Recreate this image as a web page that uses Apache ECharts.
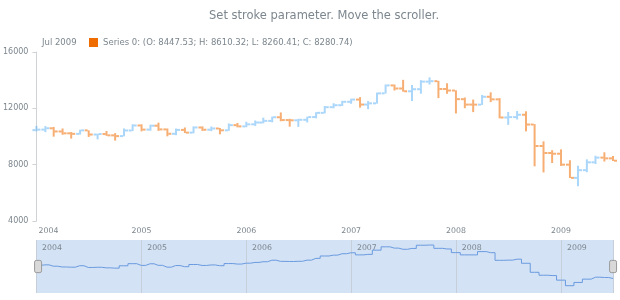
<!DOCTYPE html>
<html style="height: 100%">
<head>
    <meta charset="utf-8">
    <script src="https://cdn.jsdelivr.net/npm/echarts@6/dist/echarts.min.js"></script>
</head>
<body style="height: 100%; margin: 0; background: #fff">
<div id="container" style="width: 620px; height: 300px"></div>
<script type="text/javascript">
    var months = [
        '2004-01-01','2004-02-01','2004-03-01','2004-04-01','2004-05-01','2004-06-01','2004-07-01','2004-08-01','2004-09-01','2004-10-01','2004-11-01','2004-12-01',
        '2005-01-01','2005-02-01','2005-03-01','2005-04-01','2005-05-01','2005-06-01','2005-07-01','2005-08-01','2005-09-01','2005-10-01','2005-11-01','2005-12-01',
        '2006-01-01','2006-02-01','2006-03-01','2006-04-01','2006-05-01','2006-06-01','2006-07-01','2006-08-01','2006-09-01','2006-10-01','2006-11-01','2006-12-01',
        '2007-01-01','2007-02-01','2007-03-01','2007-04-01','2007-05-01','2007-06-01','2007-07-01','2007-08-01','2007-09-01','2007-10-01','2007-11-01','2007-12-01',
        '2008-01-01','2008-02-01','2008-03-01','2008-04-01','2008-05-01','2008-06-01','2008-07-01','2008-08-01','2008-09-01','2008-10-01','2008-11-01','2008-12-01',
        '2009-01-01','2009-02-01','2009-03-01','2009-04-01','2009-05-01','2009-06-01','2009-07-01'
    ];
    var open = [
        10452.7,10488.1,10583.9,10357.7,10225.6,10188.5,10435.5,10139.7,10173.9,10080.3,10027.5,10428.0,
        10783.0,10489.9,10766.2,10503.8,10192.5,10467.5,10275.0,10640.9,10481.6,10568.7,10440.1,10805.9,
        10717.5,10864.9,10993.4,11109.3,11367.1,11168.3,11150.2,11185.7,11381.2,11679.1,12080.7,12221.9,
        12463.2,12621.7,12268.6,12354.4,13062.9,13627.6,13408.6,13212.0,13357.7,13895.6,13930.0,13371.7,
        13264.8,12650.4,12266.4,12262.9,12820.1,12638.3,11350.0,11378.0,11543.6,10850.7,9325.0,8829.0,
        8776.4,8000.9,7062.9,7608.9,8168.1,8500.3,8447.53
    ];
    var high = [
        10753.6,10737.7,10678.1,10570.8,10317.3,10479.6,10438.6,10200.5,10387.9,10240.3,10572.2,10868.1,
        10868.1,10841.9,10984.5,10569.8,10565.7,10640.5,10720.9,10719.2,10705.6,10604.3,10931.6,10959.6,
        11048.1,11137.2,11335.3,11413.7,11709.4,11257.2,11253.5,11405.5,11727.3,12167.9,12361.9,12529.9,
        12687.6,12795.9,12514.9,13118.9,13692.0,13692.0,14022.0,13658.2,14003.7,14198.1,13951.8,13779.7,
        13280.1,12767.7,12622.1,12950.6,13136.7,12724.1,11743.7,11808.5,11790.2,10882.5,9654.0,9026.4,
        9088.1,8315.1,7925.0,8377.0,8632.1,8878.1,8610.32
    ];
    var low = [
        10368.4,10307.3,9990.0,10124.5,9852.0,10140.0,9968.0,9795.0,10046.0,9708.4,10012.0,10385.0,
        10368.0,10406.0,10402.0,10012.4,10094.0,10248.0,10224.0,10397.0,10378.0,10156.6,10406.0,10652.0,
        10662.0,10750.0,10934.0,11008.0,11081.0,10699.0,10684.0,10996.0,11288.0,11637.0,12006.0,12168.0,
        12323.0,12050.0,11939.6,12336.0,13051.0,13266.0,13180.0,12518.0,13039.0,13691.0,12725.0,13032.0,
        11634.8,12010.0,11731.6,12240.0,12442.0,11287.0,10827.7,11210.0,10365.5,7882.5,7449.4,8118.5,
        7909.0,7050.0,6469.9,7465.0,8049.0,8222.0,8260.41
    ];
    var close = [
        10488.1,10583.9,10357.7,10225.6,10188.5,10435.5,10139.7,10173.9,10080.3,10027.5,10428.0,10783.0,
        10489.9,10766.2,10503.8,10192.5,10467.5,10275.0,10640.9,10481.6,10568.7,10440.1,10805.9,10717.5,
        10864.9,10993.4,11109.3,11367.1,11168.3,11150.2,11185.7,11381.2,11679.1,12080.7,12221.9,12463.2,
        12621.7,12268.6,12354.4,13062.9,13627.6,13408.6,13212.0,13357.7,13895.6,13930.0,13371.7,13264.8,
        12650.4,12266.4,12262.9,12820.1,12638.3,11350.0,11378.0,11543.6,10850.7,9325.0,8829.0,8776.4,
        8000.9,7062.9,7608.9,8168.1,8500.3,8447.0,8280.74
    ];
    var yTicks = [4000, 8000, 12000, 16000];

    var riseColor = 'rgba(100, 181, 246, 0.55)';
    var fallColor = 'rgba(239, 108, 0, 0.55)';
    var textColor = '#7c868e';
    var font = 'DejaVu Sans';

    var ohlc = [];
    var closeLine = [];
    for (var i = 0; i < months.length; i++) {
        ohlc.push([months[i], open[i], close[i], low[i], high[i]]);
        closeLine.push([months[i], close[i]]);
    }
    var last = months.length - 1;
    var legendText = 'Series 0: (O: ' + open[last].toFixed(2) + '; H: ' + high[last].toFixed(2) +
        '; L: ' + low[last].toFixed(2) + '; C: ' + close[last].toFixed(2) + ')';

    function renderOhlc(params, api) {
        var t = api.value(0);
        var o = api.coord([t, api.value(1)]);
        var c = api.coord([t, api.value(2)]);
        var l = api.coord([t, api.value(3)]);
        var h = api.coord([t, api.value(4)]);
        var col = api.value(2) >= api.value(1) ? riseColor : fallColor;
        var st = {stroke: col, lineWidth: 2};
        return {
            type: 'group',
            children: [
                {type: 'line', shape: {x1: h[0], y1: h[1], x2: l[0], y2: l[1]}, style: st},
                {type: 'line', shape: {x1: o[0] - 4, y1: o[1], x2: o[0] - 1, y2: o[1]}, style: st},
                {type: 'line', shape: {x1: c[0] + 1, y1: c[1], x2: c[0] + 4, y2: c[1]}, style: st}
            ]
        };
    }

    var minTime = +new Date(months[0]);
    function yearLabel(v) {
        var y = new Date(v).getUTCFullYear();
        return v <= minTime ? '{first|' + y + '}' : String(y);
    }

    var year = 365 * 24 * 3600 * 1000;
    var myChart = echarts.init(document.getElementById('container'));
    var option = {
        animation: false,
        textStyle: {fontFamily: font},
        title: [{
            text: 'Set stroke parameter. Move the scroller.',
            left: 204,
            top: 5,
            textStyle: {fontSize: 11.5, fontWeight: 'normal', color: textColor, fontFamily: font}
        }, {
            text: 'Jul 2009',
            left: 37,
            top: 33,
            textStyle: {fontSize: 8.5, fontWeight: 'normal', color: textColor, fontFamily: font}
        }],
        legend: {
            left: 84,
            top: 33,
            itemWidth: 9,
            itemHeight: 9,
            itemGap: 4,
            icon: 'rect',
            data: ['Series 0'],
            formatter: function () { return legendText; },
            textStyle: {fontSize: 8.5, color: textColor, fontFamily: font}
        },
        grid: [
            {left: 36, right: 7, top: 52, height: 169},
            {left: 36, right: 7, top: 240, height: 53, show: true, backgroundColor: '#d3e2f4', borderWidth: 0}
        ],
        xAxis: [{
            type: 'time',
            gridIndex: 0,
            min: months[0],
            max: months[last],
            minInterval: year,
            maxInterval: year * 1.01,
            axisLine: {show: false},
            axisTick: {show: false},
            splitLine: {show: false},
            axisLabel: {
                formatter: yearLabel, color: textColor, fontSize: 7.8, margin: 6,
                rich: {first: {padding: [0, 0, 0, 24], color: textColor, fontSize: 7.8}}
            }
        }, {
            type: 'time',
            gridIndex: 1,
            position: 'top',
            min: months[0],
            max: months[last],
            minInterval: year,
            maxInterval: year * 1.01,
            axisLine: {show: false},
            axisTick: {show: false},
            splitLine: {show: true, lineStyle: {color: '#c6cfd9', width: 1}},
            axisLabel: {
                inside: true, formatter: '{yyyy}', color: textColor, fontSize: 7.8,
                align: 'left', verticalAlign: 'top', margin: 4, padding: [0, 0, 0, 6]
            }
        }],
        yAxis: [{
            type: 'value',
            gridIndex: 0,
            min: yTicks[0],
            max: yTicks[yTicks.length - 1],
            interval: 4000,
            axisLine: {show: true, lineStyle: {color: '#cfd3d6'}},
            axisTick: {show: true, length: 4, lineStyle: {color: '#cfd3d6'}},
            splitLine: {show: false},
            axisLabel: {color: textColor, fontSize: 8, margin: 8, formatter: function (v) { return String(v); }}
        }, {
            type: 'value',
            gridIndex: 1,
            min: 5830,
            max: 14780,
            show: false
        }],
        dataZoom: [{
            type: 'slider',
            xAxisIndex: [0, 1],
            filterMode: 'none',
            start: 0,
            end: 100,
            left: 36,
            right: 7,
            top: 240,
            height: 53,
            showDataShadow: false,
            showDetail: false,
            brushSelect: false,
            moveHandleSize: 0,
            backgroundColor: 'rgba(0,0,0,0)',
            fillerColor: 'rgba(0,0,0,0)',
            borderColor: 'rgba(0,0,0,0)',
            handleIcon: 'path://M2,0 h4 a2,2 0 0 1 2,2 v10 a2,2 0 0 1 -2,2 h-4 a2,2 0 0 1 -2,-2 v-10 a2,2 0 0 1 2,-2z',
            handleSize: '23%',
            handleStyle: {color: '#d9d9d9', borderColor: '#9a9a9a', borderWidth: 1},
            emphasis: {handleStyle: {color: '#d9d9d9', borderColor: '#9a9a9a'}}
        }],
        series: [{
            name: 'Series 0',
            type: 'custom',
            xAxisIndex: 0,
            yAxisIndex: 0,
            clip: false,
            itemStyle: {color: '#ef6c00'},
            renderItem: renderOhlc,
            encode: {x: 0, y: [1, 2, 3, 4]},
            data: ohlc
        }, {
            name: 'scroller',
            type: 'line',
            xAxisIndex: 1,
            yAxisIndex: 1,
            step: 'middle',
            symbol: 'none',
            lineStyle: {color: '#6b9be0', width: 1},
            data: closeLine
        }]
    };
    myChart.setOption(option);
</script>
</body>
</html>
